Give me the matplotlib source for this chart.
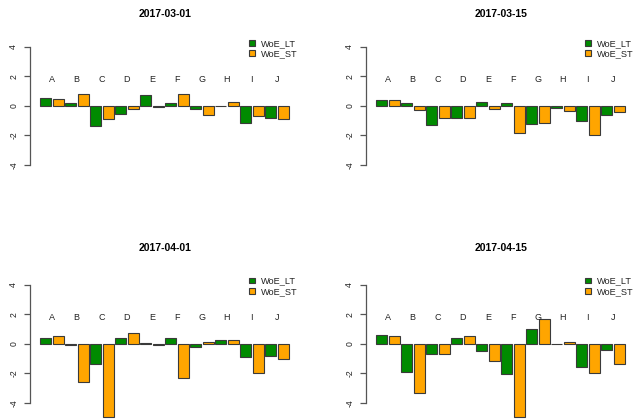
import matplotlib
matplotlib.use("Agg")
import matplotlib.pyplot as plt
import numpy as np
from matplotlib.patches import Patch

# ── Data ──────────────────────────────────────────────────
dates = ["2017-03-01", "2017-03-15", "2017-04-01", "2017-04-15"]
groups = ["A", "B", "C", "D", "E", "F", "G", "H", "I", "J"]
series_names = ["WoE_LT", "WoE_ST"]

woe_lt_0301 = [0.54, 0.18, -1.36, -0.54, 0.75, 0.18, -0.18, 0.01, -1.13, -0.79]
woe_st_0301 = [0.47, 0.84, -0.90, -0.20, -0.09, 0.84, -0.61, 0.27, -0.68, -0.90]
woe_lt_0315 = [0.41, 0.20, -1.31, -0.81, 0.27, 0.20, -1.22, -0.16, -1.02, -0.61]
woe_st_0315 = [0.43, -0.27, -0.79, -0.79, -0.18, -1.85, -1.15, -0.32, -1.99, -0.41]
woe_lt_0401 = [0.39, -0.11, -1.36, 0.39, 0.02, 0.36, -0.25, 0.23, -0.93, -0.84]
woe_st_0401 = [0.50, -2.57, -5.00, 0.73, -0.11, -2.30, 0.14, 0.25, -2.00, -1.07]
woe_lt_0415 = [0.57, -1.95, -0.73, 0.39, -0.52, -2.05, 0.98, 0.01, -1.61, -0.45]
woe_st_0415 = [0.50, -3.32, -0.73, 0.52, -1.18, -5.00, 1.66, 0.09, -2.02, -1.36]

panels = [(woe_lt_0301, woe_st_0301), (woe_lt_0315, woe_st_0315),
          (woe_lt_0401, woe_st_0401), (woe_lt_0415, woe_st_0415)]
yticks = [-4, -2, 0, 2, 4]

# ── Style / layout (pixels) ───────────────────────────────
W, H = 634, 419
GREEN, ORANGE = "#008B00", "#FFA500"
EDGE = "#3a3a3a"
AXC = "#555555"
TXT = "#222222"
SCALE = 14.75            # px per unit
col_axis_x = [30, 366]
row_zero_y = [106, 343.7]
row_title_y = [13.7, 247.5]
YLIM = 5.2

plt.rcParams["font.family"] = ["Liberation Sans", "DejaVu Sans"]
fig = plt.figure(figsize=(W / 100, H / 100), dpi=100)


def rect(left, top, w, h):
    return [left / W, 1 - (top + h) / H, w / W, h / H]


n = len(groups)
x = np.arange(2 * n)
for k, (lt, st) in enumerate(panels):
    r, c = divmod(k, 2)
    ax_x, zero = col_axis_x[c], row_zero_y[r]
    ax = fig.add_axes(rect(ax_x, zero - YLIM * SCALE, 270, 2 * YLIM * SCALE))
    vals = np.empty(2 * n)
    vals[0::2], vals[1::2] = lt, st
    cols = [GREEN, ORANGE] * n
    ax.bar(x, vals, width=0.88, align="edge", color=cols, edgecolor=EDGE,
           linewidth=0.8, clip_on=False)
    ax.set_xlim(-0.8, 20.8)
    ax.set_ylim(-YLIM, YLIM)
    for g, name in enumerate(groups):
        ax.text(2 * g + 0.94, 1.8, name, ha="center", va="center",
                fontsize=6.5, color=TXT)

    for s in ["top", "right", "bottom"]:
        ax.spines[s].set_visible(False)
    ax.spines["left"].set_bounds(-4, 4)
    ax.spines["left"].set_color(AXC)
    ax.spines["left"].set_linewidth(0.9)
    ax.set_xticks([])
    ax.set_yticks(yticks)
    ax.set_yticklabels([str(t) for t in yticks], rotation=90, va="center",
                       fontsize=6.2, color=TXT)
    ax.tick_params(axis="y", length=4, width=0.9, color=AXC, pad=4.5)
    ax.patch.set_visible(False)

    fig.text((ax_x + 135) / W, 1 - row_title_y[r] / H, dates[k],
             ha="center", va="center", fontsize=7.5, fontweight="bold")

    handles = [Patch(facecolor=GREEN, edgecolor=EDGE, linewidth=0.8),
               Patch(facecolor=ORANGE, edgecolor=EDGE, linewidth=0.8)]
    ax.legend(handles, series_names, loc="upper left",
              bbox_to_anchor=((ax_x + 219) / W, 1 - (zero - 67) / H),
              bbox_transform=fig.transFigure, frameon=False, fontsize=6.6,
              handlelength=0.6, handleheight=0.6, handletextpad=0.75,
              labelspacing=0.15, borderpad=0, borderaxespad=0,
              labelcolor=TXT)

fig.savefig("out.png", dpi=100)
